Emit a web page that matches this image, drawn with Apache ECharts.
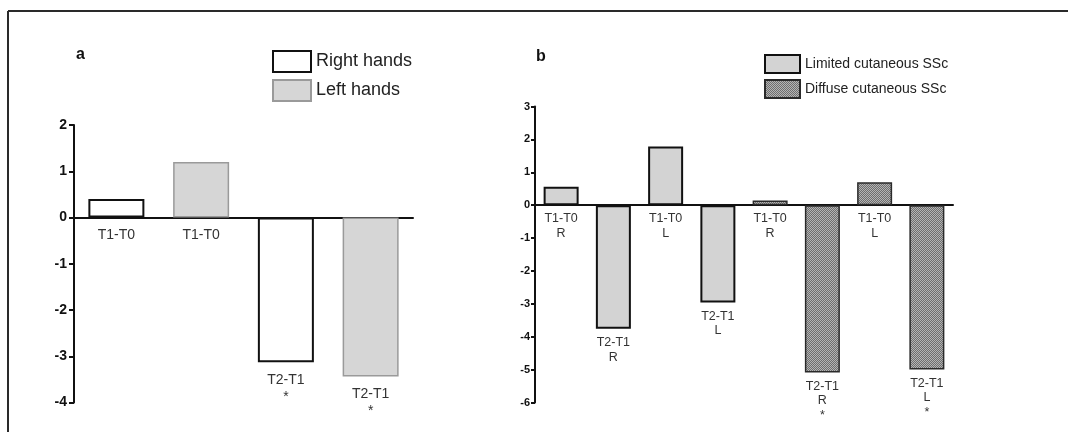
<!DOCTYPE html>
<html>
<head>
<meta charset="utf-8">
<script src="https://cdn.jsdelivr.net/npm/echarts@6/dist/echarts.min.js"></script>
<style>
html,body{margin:0;padding:0;background:#fff;}
#chart{width:1068px;height:432px;}
</style>
</head>
<body>
<div id="chart"></div>
<script>
// ---- Panel a data ----
var catsA = ['T1-T0 R', 'T1-T0 L', 'T2-T1 R', 'T2-T1 L'];
var labelTimeA = ['T1-T0', 'T1-T0', 'T2-T1', 'T2-T1'];
var labelSigA = ['', '', '*', '*'];
var rightHands = [0.4, null, -3.13, null];
var leftHands = [null, 1.2, null, -3.44];
var ticksA = { min: -4, max: 2, interval: 1 };

// ---- Panel b data ----
var catsB = ['lc T1-T0 R', 'lc T2-T1 R', 'lc T1-T0 L', 'lc T2-T1 L', 'dc T1-T0 R', 'dc T2-T1 R', 'dc T1-T0 L', 'dc T2-T1 L'];
var labelTimeB = ['T1-T0', 'T2-T1', 'T1-T0', 'T2-T1', 'T1-T0', 'T2-T1', 'T1-T0', 'T2-T1'];
var labelSideB = ['R', 'R', 'L', 'L', 'R', 'R', 'L', 'L'];
var labelSigB = ['', '', '', '', '', '*', '', '*'];
var limitedSSc = [0.56, -3.76, 1.78, -2.96, null, null, null, null];
var diffuseSSc = [null, null, null, null, 0.14, -5.09, 0.70, -5.0];
var ticksB = { min: -6, max: 3, interval: 1 };

// checker pattern for diffuse
var pat = document.createElement('canvas');
pat.width = 2; pat.height = 2;
var pctx = pat.getContext('2d');
pctx.fillStyle = '#6e6e6e'; pctx.fillRect(0, 0, 2, 2);
pctx.fillStyle = '#b4b4b4'; pctx.fillRect(0, 0, 1, 1); pctx.fillRect(1, 1, 1, 1);

var FONT = "'Liberation Sans', Arial, sans-serif";

function labA(p) {
  var s = labelTimeA[p.dataIndex];
  if (labelSigA[p.dataIndex]) s += '\n' + labelSigA[p.dataIndex];
  return s;
}
function labB(p) {
  var s = labelTimeB[p.dataIndex] + '\n' + labelSideB[p.dataIndex];
  if (labelSigB[p.dataIndex]) s += '\n' + labelSigB[p.dataIndex];
  return s;
}

var chart = echarts.init(document.getElementById('chart'), null, { renderer: 'canvas' });
var option = {
  animation: false,
  backgroundColor: '#fff',
  textStyle: { fontFamily: FONT },
  graphic: [
    { type: 'line', shape: { x1: 8, y1: 11, x2: 1068, y2: 11 }, style: { stroke: '#2a2a2a', lineWidth: 2 } },
    { type: 'line', shape: { x1: 8, y1: 11, x2: 8, y2: 432 }, style: { stroke: '#2a2a2a', lineWidth: 2 } },
    { type: 'text', left: 76, top: 47, style: { text: 'a', font: 'bold 16px ' + FONT, fill: '#111' } },
    { type: 'text', left: 536, top: 49, style: { text: 'b', font: 'bold 16px ' + FONT, fill: '#111' } }
  ],
  legend: [
    {
      left: 267, top: 45, orient: 'vertical', itemWidth: 38, itemHeight: 21, itemGap: 6, icon: 'rect',
      textStyle: { fontSize: 18, color: '#222', fontFamily: FONT },
      data: ['Right hands', 'Left hands']
    },
    {
      left: 759, top: 49, orient: 'vertical', itemWidth: 35, itemHeight: 18, itemGap: 5, icon: 'rect',
      textStyle: { fontSize: 14, color: '#222', fontFamily: FONT },
      data: ['Limited cutaneous SSc', 'Diffuse cutaneous SSc']
    }
  ],
  grid: [
    { left: 74, top: 125, width: 339, height: 277.5 },
    { left: 535, top: 106.5, width: 418, height: 296 }
  ],
  xAxis: [
    {
      type: 'category', gridIndex: 0, data: catsA,
      axisLine: { onZero: true, lineStyle: { color: '#111', width: 2 } },
      axisTick: { show: false }, axisLabel: { show: false }, splitLine: { show: false }
    },
    {
      type: 'category', gridIndex: 1, data: catsB,
      axisLine: { onZero: true, lineStyle: { color: '#111', width: 2 } },
      axisTick: { show: false }, axisLabel: { show: false }, splitLine: { show: false }
    }
  ],
  yAxis: [
    {
      type: 'value', gridIndex: 0, min: ticksA.min, max: ticksA.max, interval: ticksA.interval,
      axisLine: { show: true, lineStyle: { color: '#111', width: 2 } },
      axisTick: { show: true, length: 5, lineStyle: { color: '#111', width: 2 } },
      axisLabel: { color: '#111', fontSize: 14, fontWeight: 'bold', margin: 7, fontFamily: FONT },
      splitLine: { show: false }
    },
    {
      type: 'value', gridIndex: 1, min: ticksB.min, max: ticksB.max, interval: ticksB.interval,
      axisLine: { show: true, lineStyle: { color: '#111', width: 2 } },
      axisTick: { show: true, length: 4, lineStyle: { color: '#111', width: 2 } },
      axisLabel: { color: '#111', fontSize: 11, fontWeight: 'bold', margin: 5, fontFamily: FONT },
      splitLine: { show: false }
    }
  ],
  series: [
    {
      name: 'Right hands', type: 'bar', xAxisIndex: 0, yAxisIndex: 0, data: rightHands,
      barWidth: 56, barGap: '-100%',
      itemStyle: { color: '#ffffff', borderColor: '#111', borderWidth: 2 },
      label: { show: true, position: 'bottom', distance: 9, formatter: labA, fontSize: 14, lineHeight: 17, color: '#333', fontFamily: FONT }
    },
    {
      name: 'Left hands', type: 'bar', xAxisIndex: 0, yAxisIndex: 0, data: leftHands,
      barWidth: 56, barGap: '-100%',
      itemStyle: { color: '#d6d6d6', borderColor: '#9a9a9a', borderWidth: 1.5 },
      label: { show: true, position: 'bottom', distance: 9, formatter: labA, fontSize: 14, lineHeight: 17, color: '#333', fontFamily: FONT }
    },
    {
      name: 'Limited cutaneous SSc', type: 'bar', xAxisIndex: 1, yAxisIndex: 1, data: limitedSSc,
      barWidth: 35, barGap: '-100%',
      itemStyle: { color: '#d3d3d3', borderColor: '#111', borderWidth: 2 },
      label: { show: true, position: 'bottom', distance: 6.5, formatter: labB, fontSize: 12.5, lineHeight: 14.5, color: '#333', fontFamily: FONT }
    },
    {
      name: 'Diffuse cutaneous SSc', type: 'bar', xAxisIndex: 1, yAxisIndex: 1, data: diffuseSSc,
      barWidth: 35, barGap: '-100%',
      itemStyle: { color: { image: pat, repeat: 'repeat' }, borderColor: '#2a2a2a', borderWidth: 1.5 },
      label: { show: true, position: 'bottom', distance: 6.5, formatter: labB, fontSize: 12.5, lineHeight: 14.5, color: '#333', fontFamily: FONT }
    }
  ]
};
chart.setOption(option);
</script>
</body>
</html>
